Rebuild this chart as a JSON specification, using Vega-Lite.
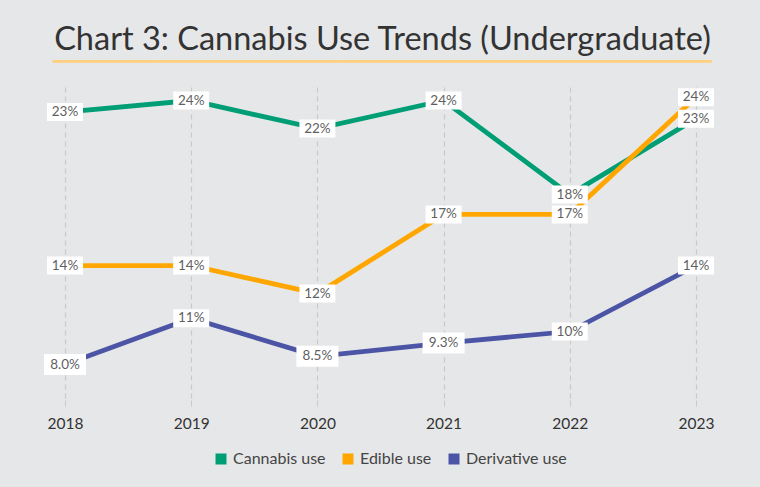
{
  "$schema": "https://vega.github.io/schema/vega-lite/v6.json",
  "autosize": {"type": "none"},
  "width": 631,
  "height": 313,
  "padding": {"left": 65, "top": 87, "right": 64, "bottom": 87},
  "background": "#e6e7e9",
  "title": {
    "text": "Chart 3: Cannabis Use Trends (Undergraduate)",
    "subtitle": "━━━━━━━━━━━━━━━━━━━━━━━━━━━━━━━━━━━━━━━━━━━━━━━━━━━━━━━━━━━━━━━━━━━━",
    "anchor": "middle",
    "dx": 2,
    "font": "Lato",
    "fontSize": 32.5,
    "fontWeight": "normal",
    "color": "#333333",
    "subtitleFont": "DejaVu Sans Mono",
    "subtitleFontSize": 16.1,
    "subtitleFontWeight": "bold",
    "subtitleColor": "#ffd080",
    "subtitlePadding": -3,
    "offset": 17
  },
  "config": {
    "view": {"stroke": null},
    "font": "Lato"
  },
  "data": {
    "values": [
      {"year": "2018", "series": "Cannabis use", "value": 0.233},
      {"year": "2019", "series": "Cannabis use", "value": 0.240},
      {"year": "2020", "series": "Cannabis use", "value": 0.223},
      {"year": "2021", "series": "Cannabis use", "value": 0.240},
      {"year": "2022", "series": "Cannabis use", "value": 0.183},
      {"year": "2023", "series": "Cannabis use", "value": 0.229},
      {"year": "2018", "series": "Edible use", "value": 0.140},
      {"year": "2019", "series": "Edible use", "value": 0.140},
      {"year": "2020", "series": "Edible use", "value": 0.123},
      {"year": "2021", "series": "Edible use", "value": 0.171},
      {"year": "2022", "series": "Edible use", "value": 0.171},
      {"year": "2023", "series": "Edible use", "value": 0.242},
      {"year": "2018", "series": "Derivative use", "value": 0.080},
      {"year": "2019", "series": "Derivative use", "value": 0.108},
      {"year": "2020", "series": "Derivative use", "value": 0.085},
      {"year": "2021", "series": "Derivative use", "value": 0.093},
      {"year": "2022", "series": "Derivative use", "value": 0.100},
      {"year": "2023", "series": "Derivative use", "value": 0.140}
    ]
  },
  "encoding": {
    "x": {
      "field": "year",
      "type": "ordinal",
      "scale": {"type": "point", "padding": 0},
      "axis": {
        "title": null,
        "labelAngle": 0,
        "labelFont": "Lato",
        "labelFontSize": 15.5,
        "labelColor": "#333333",
        "labelPadding": 10,
        "domain": false,
        "ticks": true,
        "tickColor": "#c8c9cb",
        "tickSize": 6,
        "grid": true,
        "gridColor": "#c8c9cb",
        "gridDash": [5, 4],
        "gridWidth": 1.2
      }
    },
    "y": {
      "field": "value",
      "type": "quantitative",
      "scale": {"domain": [0.0585, 0.2482], "zero": false, "nice": false},
      "axis": null
    }
  },
  "layer": [
    {
      "mark": {"type": "line", "strokeWidth": 4.8},
      "encoding": {
        "color": {
          "field": "series",
          "type": "nominal",
          "scale": {
            "domain": ["Cannabis use", "Edible use", "Derivative use"],
            "range": ["#009e74", "#ffa600", "#4c54a6"]
          },
          "legend": {
            "title": null,
            "orient": "none",
            "legendX": 148,
            "legendY": 364,
            "direction": "horizontal",
            "symbolType": "square",
            "symbolSize": 90,
            "labelFont": "Lato",
            "labelFontSize": 16,
            "labelColor": "#444444",
            "columnPadding": 14,
            "labelOffset": 4,
            "encode": {
              "symbols": {
                "update": {
                  "fill": {"scale": "color", "field": "value"},
                  "stroke": {"value": "transparent"}
                }
              }
            }
          }
        }
      }
    },
    {
      "mark": {
        "type": "point",
        "shape": "M-1,-0.5H1V0.5H-1Z",
        "filled": true,
        "color": "white",
        "opacity": 1,
        "strokeWidth": 0
      },
      "encoding": {
        "size": {
          "condition": {"test": "datum.value < 0.1", "value": 1764},
          "value": 1296
        }
      }
    },
    {
      "mark": {
        "type": "text",
        "font": "Lato",
        "fontSize": 13.5,
        "color": "#5f5f5f",
        "align": "center",
        "baseline": "middle"
      },
      "encoding": {
        "text": {"field": "value", "type": "quantitative", "format": ".2p"}
      }
    }
  ]
}
